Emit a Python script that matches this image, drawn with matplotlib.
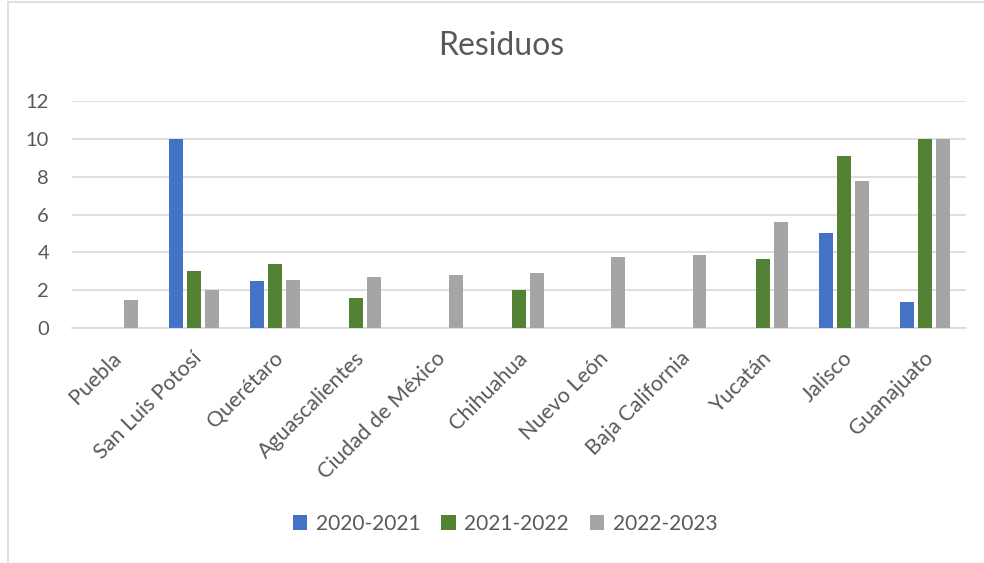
import matplotlib.pyplot as plt
import numpy as np
from matplotlib.lines import Line2D
import matplotlib.transforms as mtransforms

estados = ['Puebla', 'San Luis Potosí', 'Querétaro', 'Aguascalientes', 'Ciudad de México',
           'Chihuahua', 'Nuevo León', 'Baja California', 'Yucatán', 'Jalisco', 'Guanajuato']
periodos = ['2020-2021', '2021-2022', '2022-2023']
v_2020 = [0, 10, 2.5, 0, 0, 0, 0, 0, 0, 5, 1.4]
v_2021 = [0, 3, 3.4, 1.6, 0, 2, 0, 0, 3.67, 9.1, 10]
v_2022 = [1.47, 2, 2.56, 2.72, 2.8, 2.93, 3.74, 3.88, 5.6, 7.77, 10]
colores = ['#4472C4', '#548235', '#A5A5A5']

plt.rcParams['font.family'] = ['Lato', 'DejaVu Sans']
txt = '#595959'

fig = plt.figure(figsize=(9.84, 5.63), dpi=100)
ax = fig.add_axes([0.0732, 0.4174, 0.9085, 0.4032])

x = np.arange(len(estados))
ancho = 0.172
paso = 0.221
for i, (vals, col, lab) in enumerate(zip([v_2020, v_2021, v_2022], colores, periodos)):
    ax.bar(x + (i - 1) * paso, vals, ancho, color=col, label=lab, zorder=3)

ax.set_xlim(-0.5, len(estados) - 0.5)
ax.set_ylim(0, 12)
ax.set_yticks(range(0, 13, 2))
ax.yaxis.grid(True, color='#d9d9d9', linewidth=1.2, zorder=0)
for s in ['top', 'right', 'left']:
    ax.spines[s].set_visible(False)
ax.spines['bottom'].set_color('#d9d9d9')
ax.spines['bottom'].set_linewidth(1.2)
ax.tick_params(axis='both', length=0, colors=txt)
ax.tick_params(axis='y', pad=16.5, labelsize=14.5)
ax.set_xticks(x)
ax.set_xticklabels(estados, rotation=45, ha='right', rotation_mode='anchor', fontsize=15.5)
ax.tick_params(axis='x', pad=14.5)
desplaza = mtransforms.ScaledTranslation(-2 / 100, 0, fig.dpi_scale_trans)
for lbl in ax.get_xticklabels():
    lbl.set_transform(lbl.get_transform() + desplaza)

fig.text(501 / 984, 1 - 46 / 563, 'Residuos', ha='center', va='center', fontsize=23, color=txt)

fig.legend(loc='center', bbox_to_anchor=(505 / 984, 1 - 524 / 563), ncol=3, frameon=False,
           fontsize=15, labelcolor=txt, handlelength=0.7, handleheight=0.7,
           handletextpad=0.4, columnspacing=1.0)

# borde del grafico
fig.add_artist(Line2D([8 / 984, 8 / 984], [0, 1 - 2 / 563], color='#d9d9d9', linewidth=1.2))
fig.add_artist(Line2D([8 / 984, 1], [1 - 2 / 563, 1 - 2 / 563], color='#d9d9d9', linewidth=1.2))

fig.savefig('out.png', dpi=100)
